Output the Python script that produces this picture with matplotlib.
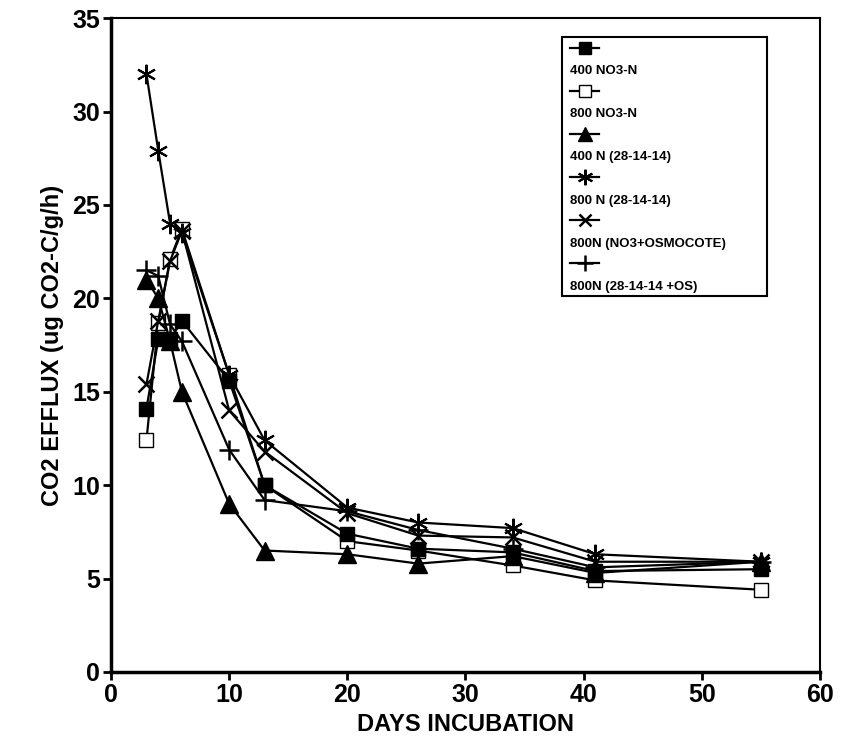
import matplotlib
matplotlib.use('Agg')
import matplotlib.pyplot as plt
from matplotlib.patches import Rectangle

# data
days = [3, 4, 5, 6, 10, 13, 20, 26, 34, 41, 55]
no3_400 = [14.1, 17.8, 17.8, 18.8, 15.6, 10.0, 7.4, 6.6, 6.4, 5.4, 5.5]
no3_800 = [12.4, 18.7, 22.1, 23.7, 15.9, 10.0, 7.0, 6.5, 5.7, 4.9, 4.4]
n400_281414 = [21.0, 20.0, 17.7, 15.0, 9.0, 6.5, 6.3, 5.8, 6.2, 5.3, 5.9]
n800_281414 = [32.0, 27.9, 24.0, 23.5, 15.9, 12.4, 8.8, 8.0, 7.7, 6.3, 5.9]
n800_osmo = [15.4, 18.8, 22.0, 23.6, 14.0, 11.8, 8.5, 7.3, 7.2, 5.9, 5.9]
n800_os = [21.5, 21.2, 18.6, 17.7, 11.9, 9.2, 8.6, 7.6, 6.6, 5.6, 5.9]

labels = ['400 NO3-N', '800 NO3-N', '400 N (28-14-14)', '800 N (28-14-14)',
          '800N (NO3+OSMOCOTE)', '800N (28-14-14 +OS)']
series = [no3_400, no3_800, n400_281414, n800_281414, n800_osmo, n800_os]
styles = [dict(marker='s', mfc='black', ms=10),
          dict(marker='s', mfc='white', ms=10),
          dict(marker='^', mfc='black', ms=13),
          dict(marker=(6, 2, 0), mfc='black', ms=14, mew=1.5),
          dict(marker='x', mfc='black', ms=11, mew=1.8),
          dict(marker='+', mfc='black', ms=14, mew=1.8)]
orders = [3, 1.5, 3, 2.5, 2.5, 2.5]

plt.rcParams['font.family'] = ['Liberation Sans', 'DejaVu Sans']
plt.rcParams['font.weight'] = 'bold'

fig = plt.figure(figsize=(8.41, 7.55), dpi=100)
ax = fig.add_axes([0.132, 0.110, 0.843, 0.866])

for vals, st, z in zip(series, styles, orders):
    ax.plot(days, vals, color='black', lw=1.6, mec='black', zorder=z, **st)

ax.set_xlim(0, 60)
ax.set_ylim(0, 35)
ax.set_xticks(range(0, 61, 10))
ax.set_yticks(range(0, 36, 5))
ax.tick_params(direction='out', length=6, width=2, labelsize=18, pad=2)
for lab in ax.get_xticklabels() + ax.get_yticklabels():
    lab.set_fontweight('bold')
for side in ['left', 'bottom']:
    ax.spines[side].set_linewidth(2.5)
for side in ['top', 'right']:
    ax.spines[side].set_linewidth(1.5)

ax.set_xlabel('DAYS INCUBATION', fontsize=17, fontweight='bold', labelpad=4)
ax.set_ylabel('CO2 EFFLUX (ug CO2-C/g/h)', fontsize=17, fontweight='bold', labelpad=6)

# legend box drawn by hand: marker sample above each label
x0, x1, ytop, ybot = 0.636, 0.925, 0.971, 0.575
ax.add_patch(Rectangle((x0, ybot), x1 - x0, ytop - ybot, transform=ax.transAxes,
                       fill=False, lw=1.5, ec='black', clip_on=False))
step = (ytop - ybot) / 6
for i, (lab, st) in enumerate(zip(labels, styles)):
    ym = ytop - 0.016 - i * step
    ax.plot([x0 + 0.012, x0 + 0.032, x0 + 0.052], [ym, ym, ym], color='black', lw=1.6,
            mec='black', transform=ax.transAxes, clip_on=False,
            markevery=[1], **dict(st, ms=st['ms'] * 0.8))
    ax.text(x0 + 0.012, ym - 0.036, lab, transform=ax.transAxes,
            fontsize=9.5, fontweight='bold', va='center', ha='left')

fig.savefig('out.png', dpi=100)
